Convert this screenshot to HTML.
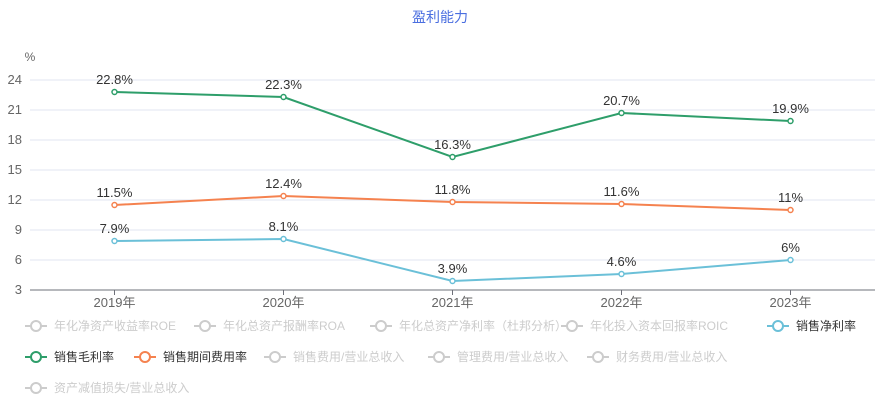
<!DOCTYPE html>
<html><head><meta charset="utf-8"><style>
body{margin:0;background:#fff;font-family:"Liberation Sans","Noto Sans CJK SC",sans-serif}
#wrap{position:relative;width:880px;height:400px;overflow:hidden}
.lg{position:absolute;display:flex;align-items:center;font-size:12px;color:#ccc;white-space:nowrap;cursor:pointer}
.lg.on{color:#333}
.lg svg{margin-right:7px}
</style></head><body>
<div id="wrap">
<svg id="chart" width="880" height="310" style="position:absolute;left:0;top:0"></svg>
<div id="legend"></div>
</div>
<script>
const categories=["2019年","2020年","2021年","2022年","2023年"];
const grossMargin=[22.8,22.3,16.3,20.7,19.9];
const periodExpense=[11.5,12.4,11.8,11.6,11];
const netMargin=[7.9,8.1,3.9,4.6,6];
const yTicks=[3,6,9,12,15,18,21,24];
const legendItems=[
["年化净资产收益率ROE",25,325,null],["年化总资产报酬率ROA",194,325,null],["年化总资产净利率（杜邦分析）",370,325,null],["年化投入资本回报率ROIC",561,325,null],["销售净利率",767,325,"#6bc0d8"],
["销售毛利率",25,356,"#2e9e6a"],["销售期间费用率",134,356,"#f5824f"],["销售费用/营业总收入",264,356,null],["管理费用/营业总收入",428,356,null],["财务费用/营业总收入",587,356,null],
["资产减值损失/营业总收入",25,387,null]];
const NS="http://www.w3.org/2000/svg";
const svg=document.getElementById('chart');
const L=30,R=875,yMin=3,yMax=24,yB=290,yT=80;
const x=i=>L+(R-L)/categories.length*(i+0.5);
const y=v=>yB-(v-yMin)/(yMax-yMin)*(yB-yT);
function el(t,a,p){const e=document.createElementNS(NS,t);for(const k in a)e.setAttribute(k,a[k]);(p||svg).appendChild(e);return e;}
const title=el('text',{x:440,y:22,'text-anchor':'middle','font-size':14,fill:'#4a6ee0'});title.textContent='盈利能力';


const unit=el('text',{x:30,y:61,'text-anchor':'middle','font-size':12,fill:'#666'});unit.textContent='%';


yTicks.forEach(v=>{
 if(v!==yMin){const g=el('line',{x1:L,x2:R,y1:y(v),y2:y(v),stroke:'#e0e6f1'});
 
 }
 const t=el('text',{x:22,y:y(v)+4,'text-anchor':'end','font-size':13,fill:'#666'});t.textContent=v;
 
 
});
const ax=el('line',{x1:L,x2:R,y1:yB,y2:yB,stroke:'#6e7079'});


categories.forEach((c,i)=>{
 const tk=el('line',{x1:x(i),x2:x(i),y1:yB,y2:yB+5,stroke:'#6e7079'});
 
 
 const t=el('text',{x:x(i),y:yB+17,'text-anchor':'middle','font-size':13,fill:'#666'});t.textContent=c;
 
 
});
function series(data,color,name){
 const pl=el('polyline',{points:data.map((v,i)=>x(i)+','+y(v)).join(' '),fill:'none',stroke:color,'stroke-width':2});
 
 
 data.forEach((v,i)=>{
  const c=el('circle',{cx:x(i),cy:y(v),r:2.5,fill:'#fff',stroke:color,'stroke-width':1.5});
  
  
  const t=el('text',{x:x(i),y:y(v)-8,'text-anchor':'middle','font-size':13,fill:'#333'});t.textContent=v+'%';
  
  
 });
}
series(grossMargin,'#2e9e6a','gross-margin');
series(periodExpense,'#f5824f','period-expense');
series(netMargin,'#6bc0d8','net-margin');
const lg=document.getElementById('legend');
legendItems.forEach(([n,lx,ly,c])=>{
 const d=document.createElement('div');d.className='lg'+(c?' on':'');
 d.style.left=lx+'px';d.style.top=(ly-8)+'px';
 
 
 const col=c||'#ccc';
 d.innerHTML='<svg width="22" height="14"><line x1="0" x2="22" y1="7" y2="7" stroke="'+col+'" stroke-width="2"/><circle cx="11" cy="7" r="5" fill="#fff" stroke="'+col+'" stroke-width="2"/></svg><span>'+n+'</span>';
 lg.appendChild(d);
});
</script>
</body></html>
